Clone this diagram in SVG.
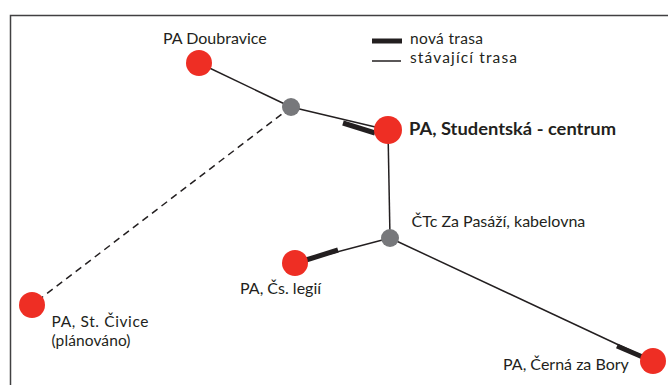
<svg xmlns="http://www.w3.org/2000/svg" width="668" height="385" viewBox="0 0 668 385">
<style>
text{font-family:"Lato","Liberation Sans",sans-serif;font-size:16px;fill:#231f20}
.s{font-size:15.5px}
.b{font-weight:bold;font-size:16.5px}
.pa{fill:#ee2e24}
.j{fill:#77787b}
.thin{stroke:#231f20;stroke-width:1.5;fill:none}
.thick{stroke:#231f20;stroke-width:5;fill:none}
.dash{stroke:#231f20;stroke-width:1.5;fill:none;stroke-dasharray:7 5}
</style>
<rect width="668" height="385" fill="#fff"/>
<path d="M10.5 390 V15.5 H670" fill="none" stroke="#414042" stroke-width="1.5"/>
<g id="legend">
<line x1="372" y1="41" x2="402" y2="41" class="thick"/>
<text x="410" y="44" class="s" textLength="73">nová trasa</text>
<line x1="372" y1="61" x2="401" y2="61" class="thin"/>
<text x="410" y="63" class="s" textLength="107">stávající trasa</text>
</g>
<g id="connectors">
<line x1="199" y1="63" x2="291" y2="107" class="thin"/>
<line x1="291" y1="107" x2="388" y2="130" class="thin"/>
<line x1="343" y1="123" x2="375" y2="133" class="thick"/>
<line x1="388" y1="130" x2="390" y2="238" class="thin"/>
<line x1="291" y1="107" x2="32" y2="305" class="dash"/>
<line x1="390" y1="238" x2="295" y2="263" class="thin"/>
<line x1="306" y1="260" x2="338" y2="250" class="thick"/>
<line x1="390" y1="238" x2="653" y2="361" class="thin"/>
<line x1="617" y1="346" x2="645" y2="358" class="thick"/>
</g>
<g id="doubravice"><circle cx="199" cy="63" r="13" class="pa"/><text x="163" y="43.5">PA Doubravice</text></g>
<g id="junction1"><circle cx="291" cy="107" r="9" class="j"/></g>
<g id="studentska"><circle cx="388" cy="130" r="14" class="pa"/><text x="409" y="135" class="b" textLength="207" lengthAdjust="spacingAndGlyphs">PA, Studentská - centrum</text></g>
<g id="ctc"><circle cx="390" cy="238" r="9" class="j"/><text x="411.5" y="227">ČTc Za Pasáží, kabelovna</text></g>
<g id="legii"><circle cx="295" cy="263" r="13" class="pa"/><text x="240" y="294">PA, Čs. legií</text></g>
<g id="civice"><circle cx="32" cy="305" r="13" class="pa"/><text x="51.5" y="326.5" class="s" textLength="97">PA, St. Čivice</text><text x="51.5" y="345.5" class="s" textLength="79">(plánováno)</text></g>
<g id="cerna"><circle cx="653" cy="361" r="13" class="pa"/><text x="503" y="370">PA, Černá za Bory</text></g>
</svg>
